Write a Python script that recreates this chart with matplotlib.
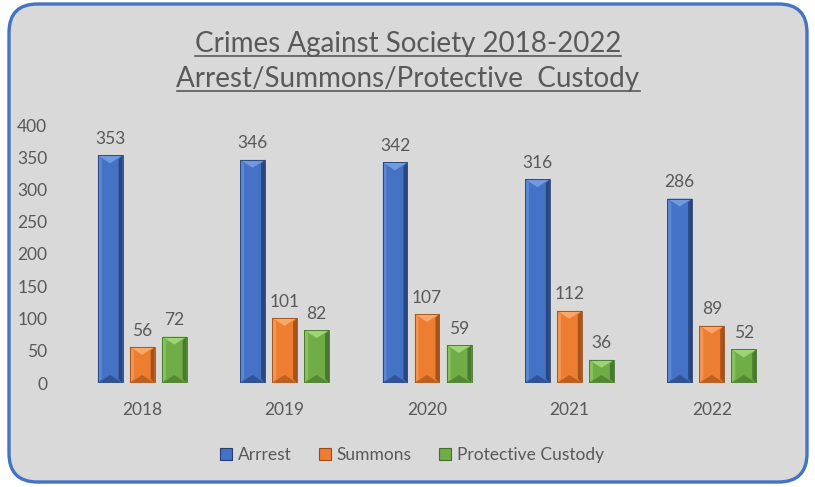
from matplotlib import pyplot as plt
from matplotlib.patches import FancyBboxPatch, Polygon, Patch
from matplotlib.lines import Line2D
import numpy as np

years = ["2018", "2019", "2020", "2021", "2022"]
arrest = [353, 346, 342, 316, 286]
summons = [56, 101, 107, 112, 89]
custody = [72, 82, 59, 36, 52]
series_names = ["Arrrest", "Summons", "Protective Custody"]

# face, highlight, shadow
palettes = [
    ("#4472c4", "#7199e0", "#253f73"),
    ("#ed7d31", "#f9a86a", "#9a4c18"),
    ("#70ad47", "#9dd474", "#42702a"),
]

TEXT = "#595959"
FONT = ["Lato", "DejaVu Sans"]


def bevel(ax, rect, face, light, dark, px_y):
    # fake Excel "angle" bevel with a few shaded polygons on top of the bar
    x0 = rect.get_x()
    w = rect.get_width()
    h = rect.get_height()
    x1 = x0 + w
    xc = x0 + w / 2
    s = w * 0.16
    t = min(8 * px_y, h / 2)
    ds = min(4 * px_y, h / 2)
    kw = dict(closed=True, lw=0, zorder=3)
    ax.add_patch(Polygon([(x0, 0), (x0 + s, ds), (x0 + s, h - ds), (x0, h)],
                         fc=light, alpha=0.55, **kw))
    ax.add_patch(Polygon([(x1, 0), (x1 - s, ds), (x1 - s, h - ds), (x1, h)],
                         fc=dark, alpha=0.85, **kw))
    ax.add_patch(Polygon([(x0, h), (x1, h), (xc, h - t)], fc=light, **kw))
    ax.add_patch(Polygon([(x0, 0), (x1, 0), (xc, t)], fc=dark, alpha=0.6, **kw))
    ax.add_patch(Polygon([(x0, 0), (x1, 0), (x1, h), (x0, h)], fill=False,
                         ec=dark, lw=0.6, zorder=4))


def main():
    plt.rcParams['font.family'] = FONT
    fig = plt.figure(figsize=(8.15, 4.87), dpi=100)
    fig.patch.set_facecolor("white")

    W, H = 815, 487
    box = FancyBboxPatch((9 / W, 5 / H), 798 / W, 478 / H,
                         boxstyle="round,pad=0,rounding_size=0.035",
                         transform=fig.transFigure, fc="#d9d9d9",
                         ec="#4472c4", lw=2.4, mutation_aspect=W / H,
                         zorder=-1)
    fig.patches.append(box)

    ax = fig.add_axes([71 / W, 1 - 383 / H, 712 / W, 258 / H])
    ax.set_facecolor("none")
    ax.set_xlim(-0.5, 4.5)
    ax.set_ylim(0, 400)
    px_y = 400 / 258

    x = np.arange(len(years))
    width = 0.175
    offsets = [-0.225, 0, 0.225]
    for vals, off, (face, light, dark) in zip([arrest, summons, custody],
                                              offsets, palettes):
        bars = ax.bar(x + off, vals, width, color=face, zorder=2)
        for r, v in zip(bars, vals):
            bevel(ax, r, face, light, dark, px_y)
            ax.annotate(str(v), (r.get_x() + r.get_width() / 2, v),
                        xytext=(0, 6), textcoords="offset points",
                        ha="center", va="bottom", fontsize=12.5, color=TEXT)

    for sp in ax.spines.values():
        sp.set_visible(False)
    ax.set_yticks(np.arange(0, 401, 50))
    ax.set_xticks(x)
    ax.set_xticklabels(years)
    ax.tick_params(length=0, labelsize=12.5, colors=TEXT)
    ax.tick_params(axis="y", pad=17)
    ax.tick_params(axis="x", pad=14)

    handles = [Patch(fc=f, ec=d, lw=0.8) for f, l, d in palettes]
    leg = fig.legend(handles, series_names, loc="center",
                     bbox_to_anchor=(412 / W, 1 - 455 / H), ncol=3,
                     frameon=False, fontsize=12.5, handlelength=0.7,
                     handleheight=0.7, handletextpad=0.3, columnspacing=1.6)
    for t in leg.get_texts():
        t.set_color(TEXT)

    # two-line title, each line underlined
    lines = ["Crimes Against Society 2018-2022",
             "Arrest/Summons/Protective  Custody"]
    ys = [1 - 44 / H, 1 - 79 / H]
    titles = [fig.text(408 / W, y, s, ha="center", va="center",
                       fontsize=20, color=TEXT) for s, y in zip(lines, ys)]
    fig.canvas.draw()
    inv = fig.transFigure.inverted()
    for t in titles:
        bb = t.get_window_extent().transformed(inv)
        yline = bb.y0 + 1 / H
        fig.add_artist(Line2D([bb.x0, bb.x1], [yline, yline],
                              color=TEXT, lw=1.2, transform=fig.transFigure))

    fig.savefig("out.png", dpi=100)


if __name__ == '__main__':
    main()
